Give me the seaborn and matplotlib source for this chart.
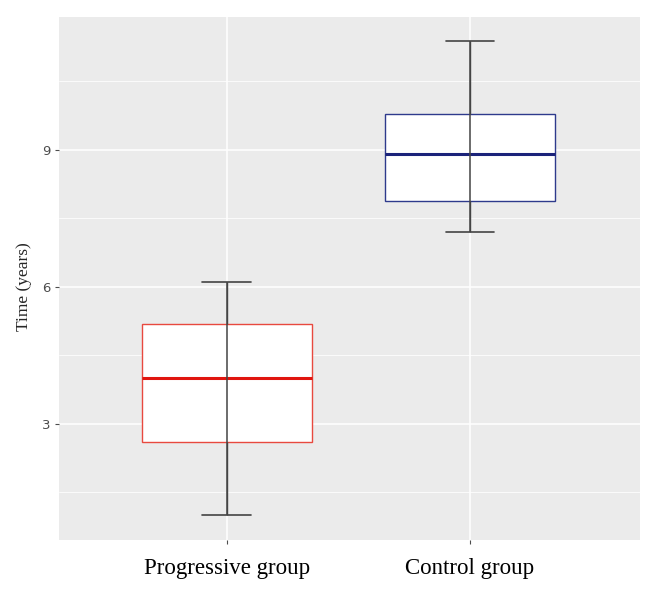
import pandas as pd
import seaborn as sns
import matplotlib.pyplot as plt
from matplotlib.ticker import MultipleLocator

groups = ["Progressive group", "Control group"]
# five-number summaries: min, q1, median, q3, max
progressive = [1.0, 2.61, 4.0, 5.19, 6.1]
control = [7.2, 7.88, 8.9, 9.79, 11.38]
edge_colors = ["#E8493F", "#2E3A8C"]
median_colors = ["#E0150F", "#1B237A"]

df = pd.DataFrame({
    "group": [groups[0]] * len(progressive) + [groups[1]] * len(control),
    "time": progressive + control,
})

sns.set_style("darkgrid", {"axes.facecolor": "#EBEBEB", "grid.color": "white"})
fig = plt.figure(figsize=(6.57, 5.92), dpi=100)
ax = fig.add_axes([59 / 657, 1 - 540 / 592, (640 - 59) / 657, (540 - 17) / 592])

sns.boxplot(data=df, x="group", y="time", order=groups, whis=(0, 100),
            width=0.70, color="white", linecolor="#444444", linewidth=1.0,
            saturation=1, ax=ax,
            boxprops={"zorder": 2},
            medianprops={"linewidth": 2.2, "zorder": 3})

# colour each box edge and median
for i, p in enumerate(ax.patches):
    p.set_edgecolor(edge_colors[i])
    p.set_facecolor("white")
meds = []
for l in ax.lines:
    xd, yd = l.get_xdata(), l.get_ydata()
    if len(xd) != 2:
        continue
    if yd[0] == yd[1]:
        if abs(xd[1] - xd[0]) > 0.5:
            meds.append(l)
        else:
            c = (xd[0] + xd[1]) / 2
            l.set_xdata([c - 0.1, c + 0.1])
            l.set_linewidth(1.2)
for i, l in enumerate(meds):
    l.set_color(median_colors[i])

# whisker line through the whole box
mins = [min(progressive), min(control)]
maxs = [max(progressive), max(control)]
ax.vlines(range(len(groups)), mins, maxs, color="#444444", linewidth=1.1, zorder=4)

ax.set_xlim(-0.69, 1.7)
ax.set_ylim(0.46, 11.91)
ax.yaxis.set_major_locator(MultipleLocator(3))
ax.yaxis.set_minor_locator(MultipleLocator(1.5))
ax.grid(which="major", color="white", linewidth=1.1)
ax.grid(which="minor", axis="y", color="white", linewidth=0.55)
ax.set_axisbelow(True)
for s in ax.spines.values():
    s.set_visible(False)

ax.set_xlabel("")
ax.set_ylabel("Time (years)", family="Liberation Serif", fontsize=12.5)
ax.yaxis.set_label_coords(-0.047, 0.484)
ax.tick_params(axis="y", which="major", length=3, color="#4D4D4D", labelcolor="#4D4D4D",
               labelsize=9.5, pad=3, left=True)
ax.tick_params(axis="y", which="minor", length=0)
ax.tick_params(axis="x", length=3, color="#4D4D4D", labelsize=16.5, pad=10, bottom=True)
for t in ax.get_xticklabels():
    t.set_family("Liberation Serif")
    t.set_color("black")

fig.savefig("out.png", dpi=100)
plt.close()
